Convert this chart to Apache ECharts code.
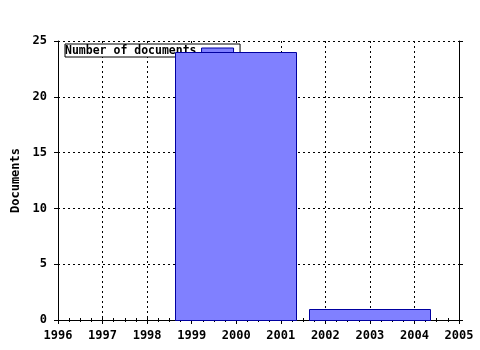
<!DOCTYPE html>
<html><head><meta charset="utf-8">
<script src="https://cdn.jsdelivr.net/npm/echarts@6/dist/echarts.min.js"></script>
<style>html,body{margin:0;padding:0;background:#fff}#c{width:480px;height:350px}</style>
</head><body><div id="c"></div>
<script>
var seriesName = 'Number of documents';
var binStart = [1998.63, 2001.63];
var binEnd = [2001.35, 2004.35];
var docCounts = [24, 1];
var xTicks = [1996, 1997, 1998, 1999, 2000, 2001, 2002, 2003, 2004, 2005];
var yTicks = [0, 5, 10, 15, 20, 25];

var font = '"DejaVu Sans Mono", monospace';
var data = binStart.map(function (s, i) { return [s, binEnd[i], docCounts[i]]; });

var chart = echarts.init(document.getElementById('c'), null, {renderer: 'canvas'});
var axisCommon = {
  axisLine: {show: true, lineStyle: {color: '#000', width: 1}},
  axisTick: {show: true, inside: false, length: 4, lineStyle: {color: '#000'}},
};
chart.setOption({
  animation: false,
  backgroundColor: '#fff',
  grid: {left: 58, right: 21, top: 41, bottom: 30, containLabel: false, outerBoundsMode: 'none'},
  legend: {
    show: true, left: 65, top: 44, z: 1,
    data: [{name: seriesName, icon: 'rect'}],
    orient: 'horizontal', align: 'right',
    itemWidth: 32, itemHeight: 6, itemGap: 9,
    padding: [1, 6, 0, 0],
    borderColor: '#000', borderWidth: 1, borderRadius: 0, backgroundColor: '#fff',
    itemStyle: {color: '#8080ff', borderColor: '#0000a0', borderWidth: 1},
    textStyle: {fontFamily: font, fontWeight: 'bold', fontSize: 11.5, color: '#000', padding: [0, 0, 0, 0]},
    selectedMode: false
  },
  xAxis: [
    Object.assign({
      type: 'value', min: xTicks[0], max: xTicks[xTicks.length - 1], interval: 1, position: 'bottom',
      axisLabel: {show: true, fontFamily: font, fontWeight: 'bold', fontSize: 12, color: '#000', margin: 10,
        formatter: function (v) { return String(v); }},
      minorTick: {show: true, splitNumber: 4, length: 2, lineStyle: {color: '#000'}},
      splitLine: {show: true, lineStyle: {color: '#000', type: [2, 3], width: 1}}
    }, axisCommon),
    Object.assign({
      type: 'value', min: xTicks[0], max: xTicks[xTicks.length - 1], interval: 1, position: 'top',
      axisLabel: {show: false},
      minorTick: {show: true, splitNumber: 4, length: 2, lineStyle: {color: '#000'}},
      splitLine: {show: false}
    }, axisCommon)
  ],
  yAxis: [
    Object.assign({
      type: 'value', min: yTicks[0], max: yTicks[yTicks.length - 1], interval: 5, position: 'left',
      name: 'Documents', nameLocation: 'middle', nameGap: 36, nameRotate: 90,
      nameTextStyle: {fontFamily: font, fontWeight: 'bold', fontSize: 12, color: '#000'},
      axisLabel: {show: true, fontFamily: font, fontWeight: 'bold', fontSize: 12, color: '#000', margin: 11},
      splitLine: {show: true, lineStyle: {color: '#000', type: [2, 3], width: 1}}
    }, axisCommon),
    Object.assign({
      type: 'value', min: yTicks[0], max: yTicks[yTicks.length - 1], interval: 5, position: 'right',
      axisLabel: {show: false}, splitLine: {show: false}
    }, axisCommon)
  ],
  series: [{
    name: seriesName, type: 'custom', z: 5,
    xAxisIndex: 0, yAxisIndex: 0,
    itemStyle: {color: '#8080ff', borderColor: '#0000a0', borderWidth: 1},
    encode: {x: [0, 1], y: 2},
    renderItem: function (params, api) {
      var p0 = api.coord([api.value(0), api.value(2)]);
      var p1 = api.coord([api.value(1), 0]);
      return {
        type: 'rect',
        shape: {x: Math.round(p0[0]) + 0.5, y: Math.round(p0[1]) + 0.5,
                width: Math.round(p1[0] - p0[0]), height: Math.round(p1[1] - p0[1])},
        style: {fill: '#8080ff', stroke: '#0000a0', lineWidth: 1}
      };
    },
    data: data
  }]
});
</script></body></html>
